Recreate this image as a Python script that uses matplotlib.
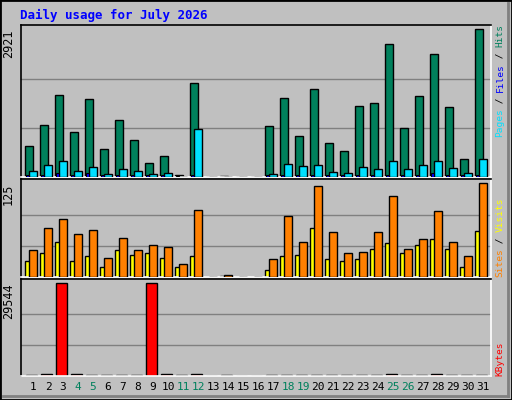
import matplotlib
matplotlib.use("Agg")
import matplotlib.pyplot as plt
from matplotlib.transforms import blended_transform_factory as btf
import numpy as np

days = list(range(1, 32))
hits = [621,1038,1612,899,1533,562,1137,740,284,423,46,1850,0,26,0,0,1018,1553,819,1731,681,522,1414,1454,2623,978,1593,2425,1394,363,2921]
files = [126,245,324,126,205,53,165,126,66,86,5,958,0,0,0,0,53,264,225,245,106,86,205,165,324,165,245,324,185,86,363]
pages = [40,40,70,40,70,30,40,30,40,30,20,40,0,0,0,0,30,30,30,40,40,30,40,40,40,40,40,70,40,30,40]
sites = [22,32,47,22,28,13,36,29,32,26,13,28,0,2,0,0,10,28,30,66,24,22,24,38,45,32,43,51,37,13,62]
visits = [36,66,77,58,63,26,52,36,43,40,17,89,0,3,0,0,24,81,47,121,60,32,33,60,108,38,51,88,47,28,125]
kbytes = [250,600,29544,600,250,250,250,250,29544,600,250,600,0,250,0,0,250,250,250,250,250,250,250,250,600,250,250,600,250,250,250]
weekend = [4,5,11,12,18,19,25,26]

BG = "#C0C0C0"
mono = "DejaVu Sans Mono"
fig = plt.figure(figsize=(5.12, 4.0), dpi=100, facecolor=BG)
W, H = 512, 400

def fx(p): return p / W
def fy(p): return 1 - p / H

x = np.array(days, dtype=float)
L, R = 20.7, 490.7
xl = ((L - 14) / 15, (R - 14) / 15)

def mkax(top, bot):
    ax = fig.add_axes([fx(L), fy(bot), fx(R - L), (bot - top) / H])
    ax.set_facecolor(BG)
    ax.set_xlim(*xl)
    ax.set_xticks([]); ax.set_yticks([])
    for s in ["left", "top"]:
        ax.spines[s].set_color("black"); ax.spines[s].set_linewidth(1.2)
    for s in ["right", "bottom"]:
        ax.spines[s].set_color("white"); ax.spines[s].set_linewidth(1.2)
    return ax

def grid(ax, mx):
    for g in (mx / 3, 2 * mx / 3):
        ax.axhline(g, color="#808080", lw=1, zorder=0)

def ylab(ax, v):
    ax.text(-0.012, v, str(v), transform=btf(ax.transAxes, ax.transData), rotation=90,
            ha="right", va="top", family=mono, fontsize=8.5)

# top panel
a1 = mkax(25, 177)
a1.set_ylim(0, 3006)
grid(a1, 2921)
a1.bar(x, hits, 0.49, color="#00805C", edgecolor="black", lw=1, zorder=2)
a1.bar(x + 0.27, files, 0.49, color="#00E0FF", edgecolor="black", lw=1, zorder=3)
a1.bar(x - 0.12, pages, 0.2, color="#0000FF", edgecolor="black", lw=0.8, zorder=4)
ylab(a1, 2921)

# middle panel
a2 = mkax(179, 277)
a2.set_ylim(0, 131)
grid(a2, 125)
a2.bar(x, sites, 0.49, color="#FFFF00", edgecolor="black", lw=1, zorder=2)
a2.bar(x + 0.27, visits, 0.49, color="#FF8000", edgecolor="black", lw=1, zorder=3)
ylab(a2, 125)

# bottom panel
a3 = mkax(279, 376)
a3.set_ylim(0, 30946)
grid(a3, 29544)
a3.bar(x + 0.17, kbytes, 0.69, color="#FF0000", edgecolor="black", lw=1, zorder=2)
ylab(a3, 29544)
for d in days:
    a3.text(d + 0.27, -0.06, str(d), transform=btf(a3.transData, a3.transAxes), ha="center", va="top",
            family=mono, fontsize=8, color="#00805C" if d in weekend else "black")

# title
fig.text(fx(20), fy(15), "Daily usage for July 2026", family=mono, fontweight="bold",
         fontsize=9, color="#0000FF", va="center")

# right labels
CW = 5.6
def rlabel(pieces, ybot):
    y = ybot
    for txt, col in pieces:
        fig.text(fx(500), fy(y), txt, rotation=90, ha="center", va="bottom", family=mono,
                 fontsize=6.8, color=col)
        y -= CW * len(txt)

rlabel([("Pages", "#00E0FF"), (" / ", "black"), ("Files", "#0000FF"), (" / ", "black"), ("Hits", "#00805C")], 137)
rlabel([("Sites", "#FF8000"), (" / ", "black"), ("Visits", "#FFFF00")], 277)
rlabel([("KBytes", "#FF0000")], 376)

# border
fig.add_artist(plt.Rectangle((0, 0), 1, 1, transform=fig.transFigure, fill=False, edgecolor="black", lw=2))
fig.add_artist(plt.Line2D([fx(3), fx(508)], [fy(396), fy(396)], transform=fig.transFigure, color="#808080", lw=2))
fig.add_artist(plt.Line2D([fx(508), fx(508)], [fy(3), fy(396)], transform=fig.transFigure, color="#808080", lw=2))

fig.savefig("out.png", dpi=100, facecolor=BG)
